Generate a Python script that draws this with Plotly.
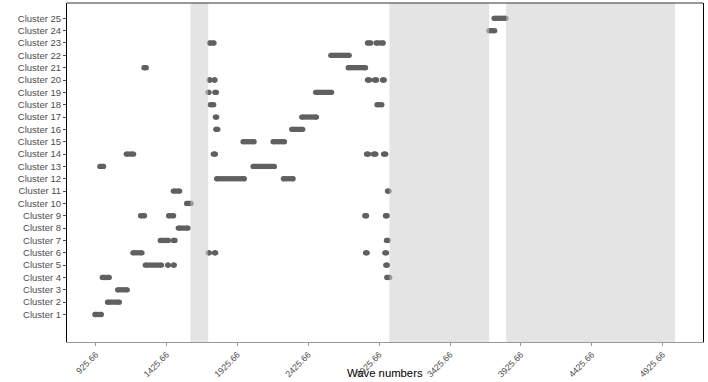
import plotly.graph_objects as go

# one row per segment: cluster number, start and end wave number
seg_cluster = [1, 2, 3, 4, 4,
               5, 5, 5, 5,
               6, 6, 6, 6, 6,
               7, 7, 7,
               8,
               9, 9, 9, 9,
               10,
               11, 11,
               12, 12,
               13, 13,
               14, 14, 14, 14, 14,
               15, 15,
               16, 16,
               17, 17,
               18, 18,
               19, 19, 19,
               20, 20, 20, 20, 20,
               21, 21,
               22,
               23, 23, 23,
               24, 25]
seg_start = [920, 1009, 1080, 972, 2979,
             1275, 1433, 1473, 2972,
             1188, 1720, 1763, 2829, 2965,
             1381, 1473, 2977,
             1508,
             1242, 1440, 2824, 2970,
             1567,
             1473, 2984,
             1779, 2250,
             955, 2036,
             1141, 1755, 2836, 2885, 2956,
             1965, 2177,
             1773, 2308,
             1770, 2379,
             1734, 2910,
             1718, 1766, 2477,
             1727, 1762, 2843, 2892, 2949,
             1266, 2707,
             2584,
             1729, 2843, 2904,
             3700, 3736]
seg_end = [965, 1092, 1148, 1021, 3000,
           1390, 1438, 1480, 2984,
           1252, 1727, 1772, 2841, 2977,
           1438, 1485, 2989,
           1577,
           1270, 1475, 2836, 2982,
           1598,
           1518, 2996,
           1974, 2318,
           981, 2186,
           1193, 1770, 2850, 2902, 2972,
           2043, 2257,
           1787, 2386,
           1779, 2483,
           1758, 2944,
           1725, 1777, 2590,
           1732, 1767, 2857, 2907, 2961,
           1282, 2829,
           2714,
           1760, 2866, 2954,
           3740, 3820]

# shaded wave number bands
band_start = [1594, 2998, 3821]
band_end = [1719, 3701, 5012]

tick_vals = [925.66, 1425.66, 1925.66, 2425.66, 2925.66,
             3425.66, 3925.66, 4425.66, 4925.66]
tick_text = ["925.66", "1425.66", "1925.66", "2425.66", "2925.66",
             "3425.66", "3925.66", "4425.66", "4925.66"]
cluster_ids = list(range(1, 26))
cluster_labels = ["Cluster {}".format(i) for i in cluster_ids]

xs, ys = [], []
for c, s, e in zip(seg_cluster, seg_start, seg_end):
    xs += [s, e, None]
    ys += [c, c, None]

fig = go.Figure()
fig.add_trace(go.Scatter(x=xs, y=ys, mode="lines+markers",
                         line=dict(color="#606060", width=5.3),
                         marker=dict(color="#606060", size=5.3, line=dict(width=0)),
                         hoverinfo="skip", showlegend=False))

for s, e in zip(band_start, band_end):
    fig.add_shape(type="rect", xref="x", yref="paper", x0=s, x1=e, y0=0, y1=1,
                  fillcolor="rgb(205,205,205)", opacity=0.55,
                  line=dict(width=0), layer="above")

# top border of the panel
fig.add_shape(type="line", xref="paper", yref="paper", x0=0, x1=1, y0=1, y1=1,
              line=dict(color="#333333", width=1), layer="above")

# x axis title, placed by hand just under the rotated tick labels
fig.add_annotation(text="Wave numbers", xref="paper", yref="paper", x=0.5, y=0,
                   yanchor="middle", yshift=-31, showarrow=False,
                   font=dict(size=11.3, color="black"))

fig.update_layout(width=708, height=382, autosize=False,
                  margin=dict(l=67, r=5, t=3, b=40),
                  plot_bgcolor="white", paper_bgcolor="white",
                  font=dict(family="Liberation Sans, Arial, sans-serif"),
                  showlegend=False)

fig.update_xaxes(range=[723, 5210], tickvals=tick_vals, ticktext=tick_text,
                 tickangle=-45, tickfont=dict(size=8.8, color="#4d4d4d"),
                 ticks="outside", ticklen=3, tickcolor="#999999",
                 showline=True, linecolor="#999999", linewidth=1.2,
                 showgrid=False, zeroline=False, automargin=False)

fig.update_yaxes(range=[-1.23, 26.24], tickvals=cluster_ids, ticktext=cluster_labels,
                 tickfont=dict(size=9.5, color="#4d4d4d"),
                 ticks="outside", ticklen=3, tickcolor="#4d4d4d",
                 showline=True, linecolor="black", linewidth=1, mirror=True,
                 showgrid=False, zeroline=False, automargin=False)

# page margin off so the figure sits at the window's corner
fig.write_html("out.html", config={"displayModeBar": False},
               post_script="document.body.style.margin='0';")
